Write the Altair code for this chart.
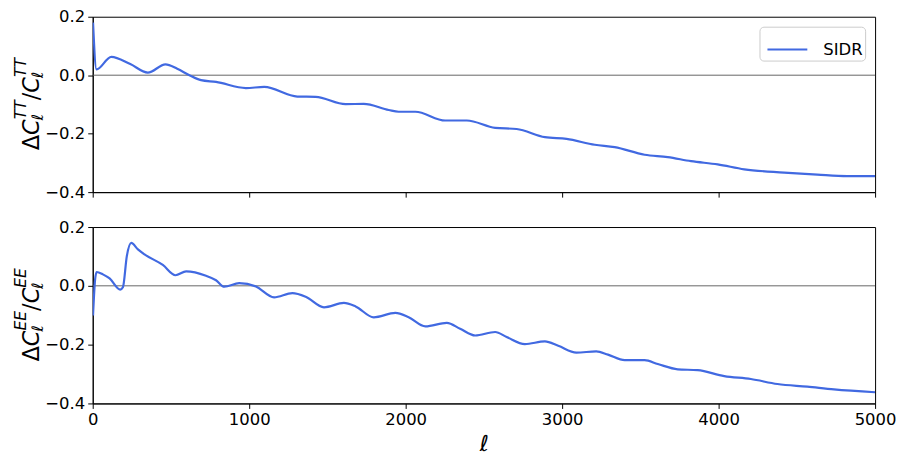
import altair as alt
import pandas as pd

# ---- data ----
ell_tt = [2, 24, 119, 240, 352, 465, 540, 618, 692, 788, 979, 1096, 1308, 1425, 1616, 1732,
          1892, 1955, 2062, 2253, 2391, 2572, 2709, 2890, 3028, 3209, 3336, 3527, 3675,
          3824, 3994, 4164, 4419, 4631, 4822, 5000]
dtt = [0.18, 0.020, 0.063, 0.038, 0.009, 0.037, 0.022, 0.000, -0.017, -0.023, -0.044, -0.040,
       -0.073, -0.074, -0.099, -0.098, -0.119, -0.125, -0.125, -0.155, -0.155, -0.180, -0.184,
       -0.212, -0.218, -0.238, -0.246, -0.272, -0.280, -0.294, -0.305, -0.322, -0.333,
       -0.340, -0.345, -0.345]

ell_ee = [2, 15, 25, 65, 108, 176, 193, 218, 246, 289, 331, 448, 529, 597, 724, 788, 841, 936,
          1043, 1159, 1276, 1361, 1478, 1605, 1680, 1796, 1934, 2019, 2126, 2263, 2348, 2444,
          2572, 2645, 2762, 2890, 2975, 3091, 3218, 3293, 3400, 3527, 3611, 3739, 3866, 4036,
          4206, 4376, 4567, 4737, 5000]
dee = [-0.101, 0.020, 0.047, 0.039, 0.025, -0.013, -0.005, 0.101, 0.146, 0.124, 0.107, 0.071,
       0.036, 0.049, 0.034, 0.019, -0.003, 0.009, -0.002, -0.039, -0.025, -0.037, -0.073,
       -0.058, -0.070, -0.107, -0.092, -0.107, -0.138, -0.126, -0.146, -0.169, -0.157, -0.174,
       -0.198, -0.189, -0.204, -0.227, -0.223, -0.234, -0.253, -0.253, -0.266, -0.284, -0.287,
       -0.307, -0.317, -0.334, -0.343, -0.352, -0.362]

series_name = "SIDR"
x_ticks = [0, 1000, 2000, 3000, 4000, 5000]
y_ticks = [0.2, 0.0, -0.2, -0.4]

df_tt = pd.DataFrame({"ell": ell_tt, "val": dtt, "series": series_name})
df_ee = pd.DataFrame({"ell": ell_ee, "val": dee, "series": series_name})

BLUE = "#4169E1"
W, H1, H2 = 785, 176, 177
FONT = "DejaVu Sans"
TICKF = 16.5

one_row = alt.Data(values=[{"a": 0}])


def ylabel_marks(sym, y_start):
    """Compose Delta C_ell^{XX} / C_ell^{XX} as rotated text pieces."""
    F, S = 22.5, 15.6
    base_x = -54
    sup_dx, sub_dx = -12.5, 4
    sym_w = {"T": 0.611, "E": 0.632}[sym] * S * 2
    pieces = []
    y = y_start
    pieces.append(("Δ", y, base_x, F, "normal")); y -= 0.684 * F
    pieces.append(("C", y, base_x, F, "italic")); y -= 0.698 * F
    pieces.append((sym * 2, y, base_x + sup_dx, S, "italic"))
    pieces.append(("ℓ", y + 1, base_x + sub_dx, S, "italic")); y -= sym_w
    pieces.append(("/", y, base_x, F, "normal")); y -= 0.337 * F
    pieces.append(("C", y, base_x, F, "italic")); y -= 0.698 * F
    pieces.append((sym * 2, y, base_x + sup_dx, S, "italic"))
    pieces.append(("ℓ", y + 1, base_x + sub_dx, S, "italic"))
    marks = []
    for txt, yy, xx, fs, st in pieces:
        marks.append(
            alt.Chart(one_row).mark_text(
                text=txt, angle=270, align="left", baseline="alphabetic",
                fontSize=fs, fontStyle=st, font=FONT, color="black", clip=False
            ).encode(x=alt.value(xx), y=alt.value(yy))
        )
    return marks


yscale = alt.Scale(domain=[-0.4, 0.2], nice=False, zero=False)
xscale = alt.Scale(domain=[0, 5000], nice=False)

yaxis = alt.Axis(values=y_ticks, format=".1f", title=None, grid=False,
                 labelFontSize=TICKF, tickSize=5, labelPadding=3, labelFlush=False)


def panel(df, sym, height, bottom, with_legend):
    xaxis = alt.Axis(values=x_ticks, format="d", grid=False, tickSize=5,
                     labels=bottom, labelFontSize=TICKF, labelPadding=3,
                     labelFlush=False,
                     title="ℓ" if bottom else None, titleFontSize=22,
                     titleFontStyle="italic", titleFontWeight="normal",
                     titlePadding=6)
    zero = alt.Chart(one_row).mark_rule(color="#555555", strokeWidth=0.9).encode(
        y=alt.datum(0, scale=yscale)
    )
    if with_legend:
        color = alt.Color("series:N", scale=alt.Scale(range=[BLUE]),
                          legend=alt.Legend(title=None, orient="top-right", offset=10,
                                            symbolType="stroke", symbolSize=1600,
                                            symbolStrokeWidth=2, symbolOffset=5,
                                            labelFontSize=TICKF,
                                            labelOffset=15, padding=2,
                                            strokeColor="#cccccc", cornerRadius=4,
                                            fillColor="white"))
    else:
        color = alt.value(BLUE)
    line = alt.Chart(df).mark_line(strokeWidth=2.2, interpolate="monotone", clip=True).encode(
        x=alt.X("ell:Q", scale=xscale, axis=xaxis),
        y=alt.Y("val:Q", scale=yscale, axis=yaxis),
        color=color,
    )
    return alt.layer(zero, line, *ylabel_marks(sym, height - 42)).properties(
        width=W, height=height
    )


top = panel(df_tt, "T", H1, False, True)
bot = panel(df_ee, "E", H2, True, False)

chart = alt.vconcat(top, bot, spacing=17).resolve_legend(color="independent").properties(
    padding={"left": 5, "top": -1, "right": 5, "bottom": 5}
).configure(font=FONT).configure_view(stroke="black", strokeWidth=1).configure_axis(
    domainColor="black", tickColor="black", labelColor="black", titleColor="black",
    labelFont=FONT, titleFont=FONT
).configure_legend(labelFont=FONT)

chart.save("out.html", embed_options={"renderer": "svg", "actions": False})
